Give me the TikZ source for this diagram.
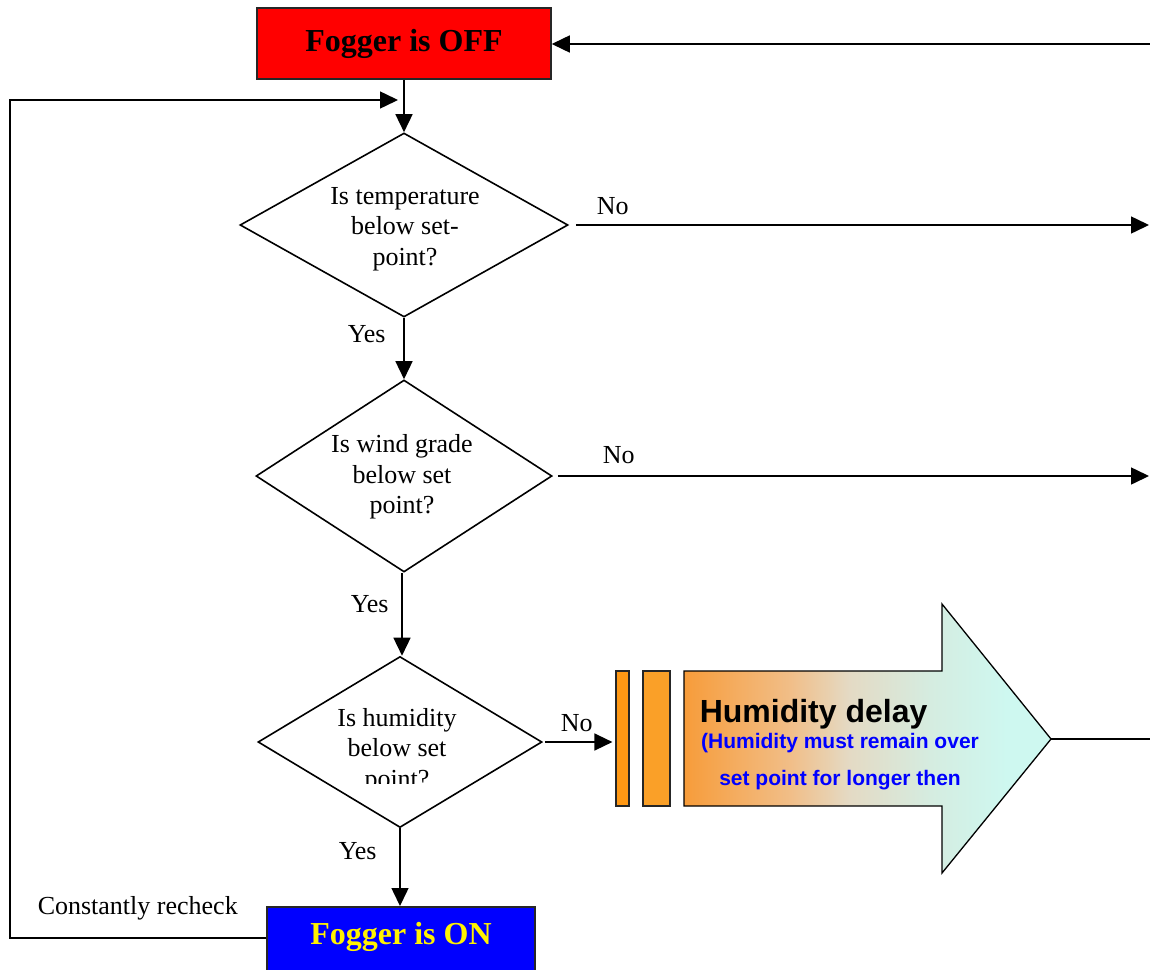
\documentclass[tikz,border=0pt]{standalone}
\usepackage{fontspec}
\setmainfont{Liberation Serif}
\newfontfamily\arialf{Liberation Sans}
\usetikzlibrary{shapes.geometric,arrows.meta}
\definecolor{dgA}{RGB}{247,156,58}
\definecolor{dgB}{RGB}{241,190,136}
\definecolor{dgC}{RGB}{228,218,196}
\definecolor{dgD}{RGB}{213,236,224}
\definecolor{dgE}{RGB}{206,248,240}
% the path's bounding box covers the 25bp--75bp part of the shading
\pgfdeclarehorizontalshading{delayshade}{100bp}{color(0bp)=(dgA); color(25bp)=(dgA); color(39.5bp)=(dgB); color(47.5bp)=(dgC); color(58.5bp)=(dgD); color(69bp)=(dgE); color(100bp)=(dgE)}
\begin{document}
\begin{tikzpicture}[x=1pt,y=-1pt,
  line width=1.5pt,
  arr/.style={-{Triangle[length=18pt,width=17pt]}},
  dia/.style={draw,shape=diamond,inner sep=0pt,fill=white,line width=1.6pt},
  qtext/.style={align=center,inner sep=0pt,font=\fontsize{26}{30.5}\selectfont},
  lbl/.style={anchor=base west,inner sep=0pt,font=\fontsize{26}{30}\selectfont},
  statebox/.style={draw=black!85,inner sep=0pt},
  statetext/.style={inner sep=0pt,font=\bfseries\fontsize{32}{36}\selectfont},
  bar/.style={draw=black!85,line width=1.2pt,inner sep=0pt,minimum height=135pt},
  bluetext/.style={anchor=base,inner sep=0pt,text=blue,font=\arialf\bfseries\fontsize{21}{25}\selectfont}]
\useasboundingbox (0,0) rectangle (1150,969);

% state boxes
\node[statebox,fill=red,minimum width=294pt,minimum height=71pt] (off) at (404,43.5) {};
\node[statetext] (offtxt) at (404,43.5) {Fogger is OFF};
\node[statebox,fill=blue,anchor=north,minimum width=268pt,minimum height=75pt] (on) at (401,906) {};
\node[statetext,text=yellow] (ontxt) at (401,937) {Fogger is ON};

% decisions
\node[dia,minimum width=328pt,minimum height=184pt] (d1) at (404,225) {};
\node[qtext] (d1t) at (405,229) {Is temperature\\below set-\\point?};
\node[dia,minimum width=296pt,minimum height=192pt] (d2) at (404,476) {};
\node[qtext] (d2t) at (402,477) {Is wind grade\\below set\\point?};
\node[dia,minimum width=284pt,minimum height=171pt] (d3) at (400,742) {};
\begin{scope}
  \clip (250,650) rectangle (560,783);
  \node[qtext] (d3t) at (397,750.5) {Is humidity\\below set\\point?};
\end{scope}

% delay block
\node[bar,fill={rgb,255:red,255;green,152;blue,20},minimum width=13pt] (bar1) at (622.5,738.5) {};
\node[bar,fill={rgb,255:red,250;green,160;blue,40},minimum width=27pt] (bar2) at (656.5,738.5) {};
\coordinate (tip) at (1051,739);
\shade[shading=delayshade]
  (684,671) -- (942,671) -- (942,604) -- (tip) -- (942,873) -- (942,806) -- (684,806) -- cycle;
\draw[line width=1.3pt,line join=miter]
  (684,671) -- (942,671) -- (942,604) -- (tip) -- (942,873) -- (942,806) -- (684,806) -- cycle;
\node[anchor=base west,inner sep=0pt,font=\arialf\bfseries\fontsize{32}{36}\selectfont] (dtitle) at (699,722) {Humidity delay};
\node[bluetext] (dl1) at (840,748) {(Humidity must remain over};
\node[bluetext] (dl2) at (840,785) {set point for longer then};

% free ends at the right edge
\coordinate (inoff) at (1150,44);
\coordinate (out1) at (1149,225);
\coordinate (out2) at (1149,476);
\coordinate (out3) at (1150,739);
\coordinate (lp1) at (10,938);
\coordinate (lp2) at (10,100);
\coordinate (lp3) at (398,100);

% connectors
\draw[arr] (inoff) -- (off.east |- inoff);
\draw[arr] (off.south) -- (d1.north);
\draw[arr] (d1.south) -- (d2.north);
\draw[arr] (d2.south -| 402,0) -- (d3.north -| 402,0);
\draw[arr] (d3.south) -- (d3.south |- on.north);
\draw[arr] ([xshift=7pt]d1.east) -- (out1);
\draw[arr] ([xshift=5pt]d2.east) -- (out2);
\draw[arr] ([xshift=2pt]d3.east) -- ([xshift=-3pt]bar1.west |- d3.east);
\draw (tip) -- (out3);
\draw[arr] (on.west |- lp1) -- (lp1) -- (lp2) -- (lp3);

% branch labels
\node[lbl] (no1) at (596,214) {No};
\node[lbl] (no2) at (602,463) {No};
\node[lbl] (no3) at (560,731) {No};
\node[lbl] (yes1) at (347,342) {Yes};
\node[lbl] (yes2) at (350,612) {Yes};
\node[lbl] (yes3) at (338,859) {Yes};
\node[lbl] (recheck) at (37,914) {Constantly recheck};
\end{tikzpicture}
\end{document}
